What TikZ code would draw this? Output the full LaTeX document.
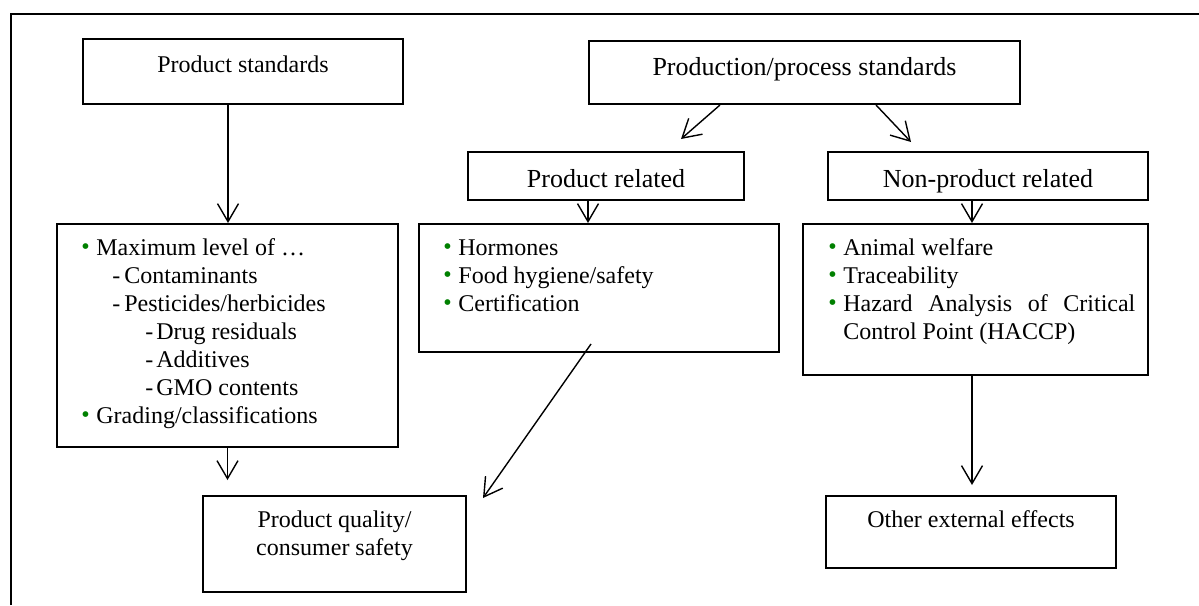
\documentclass[tikz,border=0pt]{standalone}
\usepackage{fontspec}
\setmainfont{Liberation Serif}
\usetikzlibrary{arrows.meta,positioning}
\definecolor{bulgreen}{RGB}{0,128,0}
\newcommand{\gbul}{\makebox[7.5pt][l]{\textcolor{bulgreen}{\fontsize{12}{12}\selectfont\raisebox{0.3pt}{•}}}}
\newcommand{\dashA}{\hspace*{15.5pt}\makebox[6pt][l]{-}}
\newcommand{\dashB}{\hspace*{32pt}\makebox[5.5pt][l]{-}}
\begin{document}
\begin{tikzpicture}[x=0.5pt,y=-0.5pt,
	box/.style={draw, line width=1pt, inner sep=0pt, anchor=north west},
	arr/.style={-{Straight Barb[length=9pt,width=10.5pt]}, line width=0.7pt},
	txt/.style={inner sep=0pt, font=\fontsize{12}{14}\selectfont},
	bigtxt/.style={inner sep=0pt, font=\fontsize{13}{15}\selectfont},
	listtxt/.style={txt, anchor=north west, align=left}]
	\useasboundingbox (0,0) rectangle (1199,605);
	% frame
	\draw[line width=1pt] (11,605) -- (11,14) -- (1199,14);
	
	% boxes
	\node[box, minimum width=160pt, minimum height=32.5pt] (ps) at (82,38) {};
	\node[box, minimum width=215.5pt, minimum height=31.5pt] (pps) at (588,40) {};
	\node[box, minimum width=138pt, minimum height=24pt] (pr) at (467,151) {};
	\node[box, minimum width=160pt, minimum height=24pt] (npr) at (827,151) {};
	\node[box, minimum width=170.5pt, minimum height=111.5pt] (ll) at (56,223) {};
	\node[box, minimum width=180pt, minimum height=64pt] (ml) at (418,223) {};
	\node[box, minimum width=172.5pt, minimum height=75.5pt] (rl) at (802,223) {};
	\node[box, minimum width=131.5pt, minimum height=48pt] (pq) at (202,495) {};
	\node[box, minimum width=145pt, minimum height=36pt] (oe) at (825,495) {};
	
	% box texts
	\node[txt, anchor=base] at ([yshift=-17pt]ps.north) {Product standards};
	\node[bigtxt, anchor=base] at ([yshift=-17.5pt]pps.north) {Production/process standards};
	\node[bigtxt, anchor=base] at ([yshift=-18pt]pr.north) {Product related};
	\node[bigtxt, anchor=base] at ([yshift=-18pt]npr.north) {Non-product related};
	\node[txt, anchor=north, align=center] at ([yshift=-6.2pt]pq.north) {\strut Product quality/\\\strut consumer safety};
	\node[txt, anchor=base] at ([yshift=-16pt]oe.north) {Other external effects};
	
	% lists
	\node[listtxt] (lltxt) at ([xshift=12.5pt,yshift=-6.2pt]ll.north west) {\strut\gbul Maximum level of …\\
		\strut\dashA Contaminants\\
		\strut\dashA Pesticides/herbicides\\
		\strut\dashB Drug residuals\\
		\strut\dashB Additives\\
		\strut\dashB GMO contents\\
		\strut\gbul Grading/classifications};
	\node[listtxt] (mltxt) at ([xshift=12.5pt,yshift=-6.2pt]ml.north west) {\strut\gbul Hormones\\
		\strut\gbul Food hygiene/safety\\
		\strut\gbul Certification};
	\node[listtxt] (rltxt) at ([xshift=13pt,yshift=-6.2pt]rl.north west) {\strut\gbul Animal welfare\\
		\strut\gbul Traceability\\
		\strut\gbul\makebox[146pt][s]{Hazard Analysis of Critical}\\
		\strut\hspace*{7.5pt}Control Point (HACCP)};
	
	% connectors
	\coordinate (a1) at ([xshift=-7.5pt]ps.south);
	\coordinate (a2) at ([xshift=-9pt]pr.south);
	\coordinate (a3) at ([xshift=-8pt]npr.south);
	\draw[arr] (a1) -- (a1 |- ll.north);
	\draw[arr, shorten >=7.5pt] (ll.south) -- (ll.south |- pq.north);
	\draw[arr] ([xshift=-42.25pt]pps.south) -- ([xshift=37.5pt,yshift=6pt]pr.north);
	\draw[arr] ([xshift=35.75pt]pps.south) -- ([xshift=-38.5pt,yshift=4.5pt]npr.north);
	\draw[arr] (a2) -- (a2 |- ml.north);
	\draw[arr] (a3) -- (a3 |- rl.north);
	\draw[arr] ([xshift=-4pt,yshift=4.5pt]ml.south) -- ([xshift=8pt,yshift=-1.5pt]pq.north east);
	\draw[arr, shorten >=5pt] (a3 |- rl.south) -- (a3 |- oe.north);
\end{tikzpicture}
\end{document}
